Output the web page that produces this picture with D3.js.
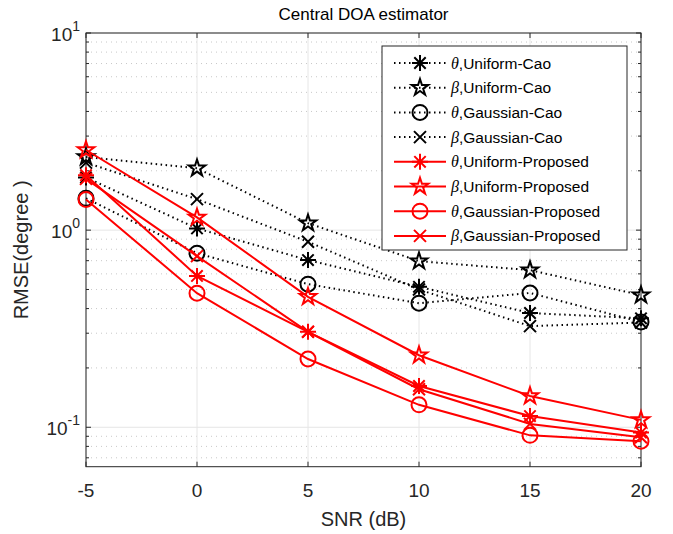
<!DOCTYPE html>
<html><head><meta charset="utf-8">
<script src="https://cdn.jsdelivr.net/npm/d3@7"></script>
<style>body{margin:0;background:#fff}svg{display:block}text{font-family:"Liberation Sans",Arial,sans-serif}</style>
</head><body>
<script>
const snr = [-5, 0, 5, 10, 15, 20];
const thetaUniformCao      = [1.85, 1.02, 0.705, 0.516, 0.38, 0.357];
const betaUniformCao       = [2.35, 2.06, 1.085, 0.696, 0.627, 0.468];
const thetaGaussianCao     = [1.45, 0.764, 0.532, 0.426, 0.48, 0.342];
const betaGaussianCao      = [2.2, 1.436, 0.873, 0.50, 0.326, 0.34];
const thetaUniformProposed = [1.9, 0.586, 0.305, 0.162, 0.114, 0.094];
const betaUniformProposed  = [2.55, 1.16, 0.459, 0.232, 0.144, 0.109];
const thetaGaussianProposed= [1.43, 0.479, 0.222, 0.13, 0.091, 0.085];
const betaGaussianProposed = [1.82, 0.738, 0.305, 0.156, 0.104, 0.089];
const xTicks = [-5, 0, 5, 10, 15, 20];
const yMajor = [0.1, 1, 10];
const yMajorExp = ["-1", "0", "1"];
const legendSym = ["θ","β","θ","β","θ","β","θ","β"];
const legendText = ["Uniform-Cao","Uniform-Cao","Gaussian-Cao","Gaussian-Cao","Uniform-Proposed","Uniform-Proposed","Gaussian-Proposed","Gaussian-Proposed"];

const series = [
  {v: thetaUniformCao, m: "asterisk", c: "#000", dash: true},
  {v: betaUniformCao, m: "star", c: "#000", dash: true},
  {v: thetaGaussianCao, m: "circle", c: "#000", dash: true},
  {v: betaGaussianCao, m: "cross", c: "#000", dash: true},
  {v: thetaUniformProposed, m: "asterisk", c: "#ff0000", dash: false},
  {v: betaUniformProposed, m: "star", c: "#ff0000", dash: false},
  {v: thetaGaussianProposed, m: "circle", c: "#ff0000", dash: false},
  {v: betaGaussianProposed, m: "cross", c: "#ff0000", dash: false},
];

const W = 673, H = 534;
const L = 86, R = 641, T = 33, B = 466.7;
const svg = d3.select("body").append("svg").attr("width", W).attr("height", H);
const x = d3.scaleLinear().domain([-5, 20]).range([L, R]);
const y = d3.scaleLog().domain([Math.pow(10, -1.2), 10]).range([B, T]);

// minor grid
const minors = [];
for (const d of [0.01, 0.1, 1]) for (let k = 2; k <= 9; k++) { const v = d * k; if (v > y.domain()[0] && v < 10) minors.push(v); }
const g = svg.append("g");
g.selectAll(".mg").data(minors).join("line")
  .attr("x1", L).attr("x2", R).attr("y1", d => y(d)).attr("y2", d => y(d))
  .attr("stroke", "#c8c8c8").attr("stroke-width", 1).attr("stroke-dasharray", "1 4");
g.selectAll(".Mg").data(yMajor).join("line")
  .attr("x1", L).attr("x2", R).attr("y1", d => y(d)).attr("y2", d => y(d))
  .attr("stroke", "#e6e6e6").attr("stroke-width", 1);
g.selectAll(".xg").data(xTicks).join("line")
  .attr("x1", d => x(d)).attr("x2", d => x(d)).attr("y1", T).attr("y2", B)
  .attr("stroke", "#e6e6e6").attr("stroke-width", 1);

// axes box
const axc = "#262626";
svg.append("rect").attr("x", L).attr("y", T).attr("width", R - L).attr("height", B - T)
  .attr("fill", "none").attr("stroke", axc).attr("stroke-width", 1);
// ticks
const tk = svg.append("g").attr("stroke", axc).attr("stroke-width", 1);
xTicks.forEach(d => {
  tk.append("line").attr("x1", x(d)).attr("x2", x(d)).attr("y1", B).attr("y2", B - 5);
  tk.append("line").attr("x1", x(d)).attr("x2", x(d)).attr("y1", T).attr("y2", T + 5);
});
yMajor.concat(minors).forEach(d => {
  const len = yMajor.includes(d) ? 5 : 3;
  tk.append("line").attr("x1", L).attr("x2", L + len).attr("y1", y(d)).attr("y2", y(d));
  tk.append("line").attr("x1", R).attr("x2", R - len).attr("y1", y(d)).attr("y2", y(d));
});
// tick labels
svg.append("g").selectAll("text").data(xTicks).join("text")
  .attr("x", d => x(d)).attr("y", 497).attr("text-anchor", "middle")
  .attr("font-size", 19).attr("fill", axc).text(d => d);
yMajor.forEach((d, i) => {
  const t = svg.append("text").attr("x", 80).attr("y", y(d) + 8).attr("text-anchor", "end")
    .attr("font-size", 19).attr("fill", axc);
  t.append("tspan").text("10");
  t.append("tspan").attr("dy", -10).attr("font-size", 14).text(yMajorExp[i]);
});
// labels
svg.append("text").attr("x", (L + R) / 2).attr("y", 526).attr("text-anchor", "middle")
  .attr("font-size", 20).attr("fill", axc).text("SNR (dB)");
svg.append("text").attr("transform", `translate(28,${(T + B) / 2}) rotate(-90)`).attr("text-anchor", "middle")
  .attr("font-size", 20).attr("fill", axc).text("RMSE(degree )");
svg.append("text").attr("x", (L + R) / 2).attr("y", 20).attr("text-anchor", "middle")
  .attr("font-size", 17).attr("fill", "#000").text("Central DOA estimator");

function marker(sel, type, cx, cy, color) {
  const gm = sel.append("g").attr("transform", `translate(${cx},${cy})`)
    .attr("stroke", color).attr("fill", "none").attr("stroke-width", 2);
  if (type === "circle") gm.append("circle").attr("r", 7.5);
  else if (type === "star") gm.append("path").attr("d", d3.symbol(d3.symbolStar, 85)()).attr("stroke-width", 2);
  else if (type === "cross") { const s = 6;
    gm.append("path").attr("d", `M${-s},${-s}L${s},${s}M${-s},${s}L${s},${-s}`); }
  else if (type === "asterisk") { const s = 8, t = 5.7;
    gm.append("path").attr("d", `M0,${-s}V${s}M${-s},0H${s}M${-t},${-t}L${t},${t}M${-t},${t}L${t},${-t}`); }
}

const line = d3.line().x((d, i) => x(snr[i])).y(d => y(d));
const plot = svg.append("g");
series.forEach(s => {
  plot.append("path").attr("d", line(s.v)).attr("fill", "none").attr("stroke", s.c)
    .attr("stroke-width", 2).attr("stroke-dasharray", s.dash ? "1.5 3.5" : null);
  s.v.forEach((v, i) => marker(plot, s.m, x(snr[i]), y(v), s.c));
});

// legend
const lx = 382, ly = 46, lw = 245, lh = 204;
const lg = svg.append("g");
lg.append("rect").attr("x", lx).attr("y", ly).attr("width", lw).attr("height", lh)
  .attr("fill", "#fff").attr("stroke", axc).attr("stroke-width", 1);
series.forEach((s, i) => {
  const yy = 63 + i * 24.7;
  lg.append("line").attr("x1", 394).attr("x2", 446).attr("y1", yy).attr("y2", yy)
    .attr("stroke", s.c).attr("stroke-width", 2).attr("stroke-dasharray", s.dash ? "1.5 3.5" : null);
  marker(lg, s.m, 420, yy, s.c);
  const t = lg.append("text").attr("x", 451).attr("y", yy + 5.5).attr("font-size", 15.5).attr("fill", "#000");
  t.append("tspan").attr("font-family", "Liberation Serif").attr("font-style", "italic").attr("font-size", 16).text(legendSym[i]);
  t.append("tspan").text("," + legendText[i]);
});
</script>
</body></html>
